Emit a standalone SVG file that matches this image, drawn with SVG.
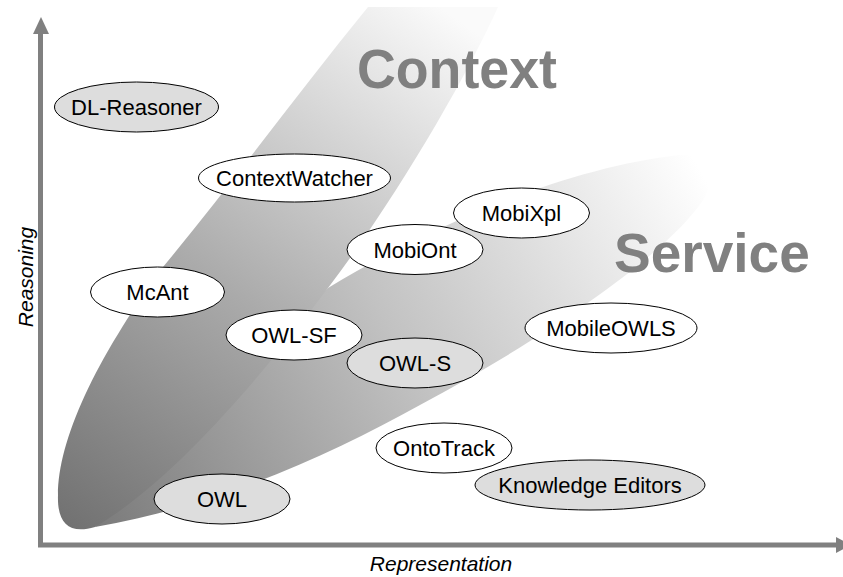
<svg xmlns="http://www.w3.org/2000/svg" width="843" height="577" viewBox="0 0 843 577">
<defs>
<linearGradient id="gCtx" gradientUnits="userSpaceOnUse" x1="70" y1="525" x2="440" y2="7">
<stop offset="0" stop-color="#727272"/>
<stop offset="0.45" stop-color="#ababab"/>
<stop offset="1" stop-color="#fafafa"/>
</linearGradient>
<linearGradient id="gSrv" gradientUnits="userSpaceOnUse" x1="100" y1="520" x2="700" y2="170">
<stop offset="0" stop-color="#7c7c7c"/>
<stop offset="0.5" stop-color="#c2c2c2"/>
<stop offset="1" stop-color="#ffffff"/>
</linearGradient>
<style>
.node ellipse{stroke:#000;stroke-width:1}
.w{fill:#fff}
.g{fill:#dddddd}
.node text{font-family:"Liberation Sans",Arial,sans-serif;font-size:22px;fill:#000;text-anchor:middle}
.big{font-family:"Liberation Sans",Arial,sans-serif;font-size:55px;font-weight:bold;fill:#808080}
.ax{font-family:"Liberation Sans",Arial,sans-serif;font-size:21px;font-style:italic;fill:#000;text-anchor:middle}
.axis{stroke:#808080;stroke-width:5;fill:none}
.head{fill:#808080}
</style>
</defs>
<rect width="843" height="577" fill="#fff"/>
<g id="blobs">
<path id="service-area" fill="url(#gSrv)" d="M 100,522 L 328,288 C 420,232 560,168 680,155 C 712,152 716,180 703,200 C 670,250 560,330 420,405 C 330,455 220,505 95,527 Z"/>
<path id="context-area" fill="url(#gCtx)" d="M 368,7 L 498,7 C 465,80 395,200 328,288 C 265,372 175,480 95,527 C 68,535 57,522 58,495 C 58,440 95,360 163,267 C 235,180 300,90 368,7 Z"/>
</g>
<text class="big" x="357" y="88" textLength="200" lengthAdjust="spacingAndGlyphs">Context</text>
<text class="big" x="614" y="272">Service</text>
<g id="axes">
<line class="axis" x1="40.5" y1="30" x2="40.5" y2="545"/>
<polygon class="head" points="41,17 49,34 33,34"/>
<line class="axis" x1="38" y1="545" x2="838" y2="545"/>
<polygon class="head" points="836,537 851,545 836,553"/>
<text class="ax" x="441" y="571">Representation</text>
<text class="ax" transform="translate(33,277) rotate(-90)">Reasoning</text>
</g>
<g id="n-dlreasoner" class="node"><ellipse class="g" cx="136.5" cy="107" rx="82" ry="25"/><text x="136.5" y="115">DL-Reasoner</text></g>
<g id="n-contextwatcher" class="node"><ellipse class="w" cx="294.5" cy="178" rx="96" ry="24"/><text x="294.5" y="186">ContextWatcher</text></g>
<g id="n-mobixpl" class="node"><ellipse class="w" cx="521.5" cy="213" rx="68" ry="25"/><text x="521.5" y="221">MobiXpl</text></g>
<g id="n-mobiont" class="node"><ellipse class="w" cx="415" cy="249.5" rx="68" ry="25"/><text x="415" y="257.5">MobiOnt</text></g>
<g id="n-mcant" class="node"><ellipse class="w" cx="157.5" cy="292" rx="67" ry="25"/><text x="157.5" y="300">McAnt</text></g>
<g id="n-owlsf" class="node"><ellipse class="w" cx="294" cy="335" rx="68" ry="25"/><text x="294" y="343">OWL-SF</text></g>
<g id="n-owls" class="node"><ellipse class="g" cx="415" cy="363" rx="68" ry="25"/><text x="415" y="371">OWL-S</text></g>
<g id="n-mobileowls" class="node"><ellipse class="w" cx="611" cy="328" rx="86" ry="25"/><text x="611" y="336">MobileOWLS</text></g>
<g id="n-ontotrack" class="node"><ellipse class="w" cx="444" cy="448" rx="68" ry="25"/><text x="444" y="456">OntoTrack</text></g>
<g id="n-knowledge" class="node"><ellipse class="g" cx="590" cy="485" rx="115" ry="25"/><text x="590" y="493">Knowledge Editors</text></g>
<g id="n-owl" class="node"><ellipse class="g" cx="222" cy="499" rx="68" ry="25"/><text x="222" y="507">OWL</text></g>
</svg>
